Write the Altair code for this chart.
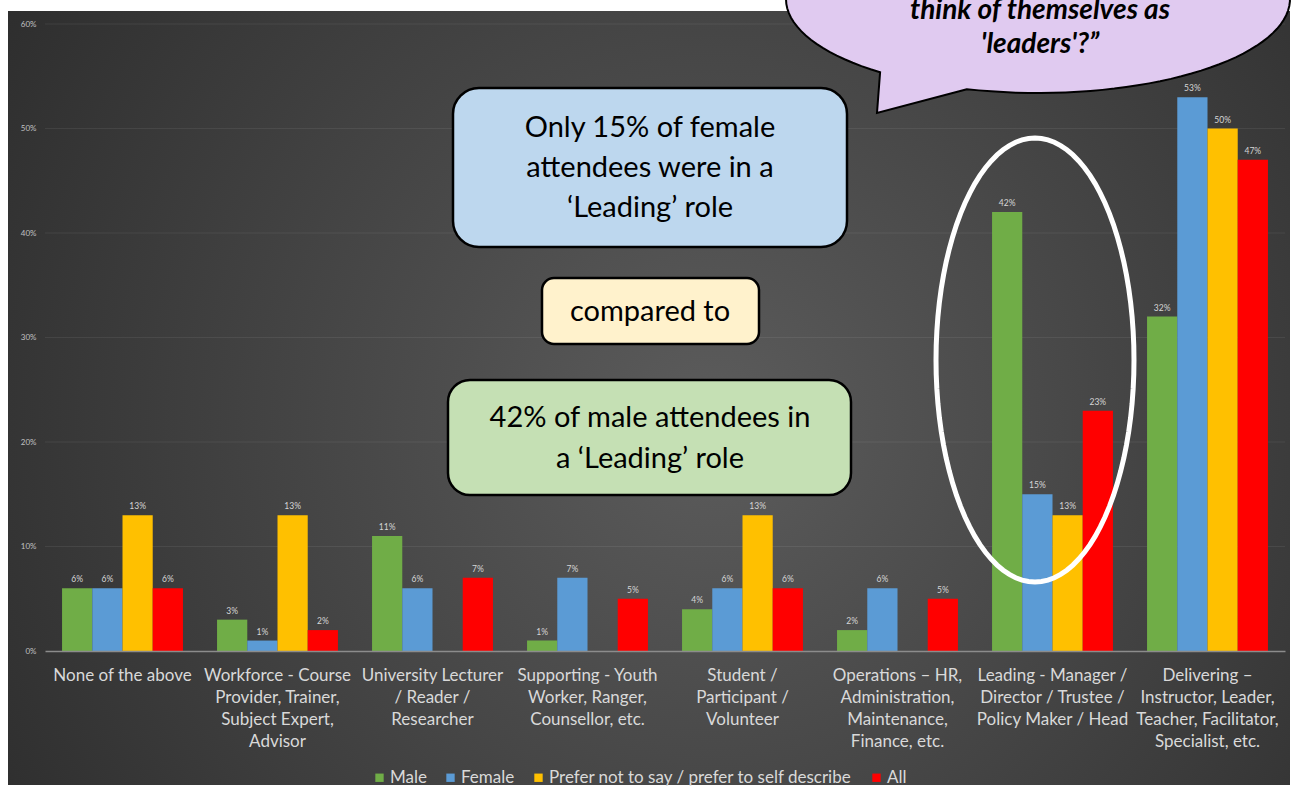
import altair as alt
import pandas as pd
import numpy as np

# ---------------- data ----------------
CATEGORIES = [
    "None of the above",
    "Workforce - Course\nProvider, Trainer,\nSubject Expert,\nAdvisor",
    "University Lecturer\n/ Reader /\nResearcher",
    "Supporting - Youth\nWorker, Ranger,\nCounsellor, etc.",
    "Student /\nParticipant /\nVolunteer",
    "Operations – HR,\nAdministration,\nMaintenance,\nFinance, etc.",
    "Leading - Manager /\nDirector / Trustee /\nPolicy Maker / Head",
    "Delivering –\nInstructor, Leader,\nTeacher, Facilitator,\nSpecialist, etc.",
]
SERIES = ["Male", "Female", "Prefer not to say / prefer to self describe", "All"]
COLORS = ["#70AD47", "#5B9BD5", "#FFC000", "#FF0000"]
MALE = [6, 3, 11, 1, 4, 2, 42, 32]
FEMALE = [6, 1, 6, 7, 6, 6, 15, 53]
PREFER = [13, 13, 0, 0, 13, 0, 13, 50]
ALL = [6, 2, 7, 5, 6, 5, 23, 47]
Y_TICKS = [0, 10, 20, 30, 40, 50, 60]
GRID = [10, 20, 30, 40, 50, 60]

rows = []
for s, vals in zip(SERIES, [MALE, FEMALE, PREFER, ALL]):
    for c, v in zip(CATEGORIES, vals):
        rows.append({"category": c, "series": s, "value": v})
df = pd.DataFrame(rows)
one = pd.DataFrame({"k": [0]})

# ---------------- layout ----------------
W, H = 1240, 627
PADL, PADT = 45, 24
def px(x):
    return x - PADL
def py(y):
    return y - PADT

FONT = "Lato"

x_enc = alt.X("category:N", sort=CATEGORIES,
              scale=alt.Scale(paddingInner=0.22, paddingOuter=0.11),
              axis=alt.Axis(title=None, labelAngle=0, labelAlign="center", labelBaseline="top",
                            labelExpr="split(datum.label, '\\n')", labelLimit=400,
                            labelFontSize=17, labelFont=FONT, labelColor="#d9d9d9",
                            labelLineHeight=22, labelPadding=16, ticks=False,
                            domain=True, domainColor="#8c8c8c", domainWidth=1.5,
                            grid=False, zindex=1))
xo_enc = alt.XOffset("series:N", sort=SERIES, scale=alt.Scale(domain=SERIES))
y_scale = alt.Scale(domain=[0, 60], nice=False)
y_axis = alt.Axis(title=None, values=Y_TICKS, labelExpr="datum.value + '%'",
                  labelFontSize=8, labelFont=FONT, labelColor="#c0c0c0",
                  labelPadding=9, ticks=False, domain=False, grid=False, zindex=1)

# background with radial gradient
bg = alt.Chart(one).mark_rect(
    fill=alt.RadialGradient(gradient="radial", x1=0.55, y1=0.52, r1=0.0,
                            x2=0.55, y2=0.52, r2=0.75,
                            stops=[alt.GradientStop(offset=0, color="#5c5c5c"),
                                   alt.GradientStop(offset=1, color="#262626")])
).encode(x=alt.value(px(8)), x2=alt.value(px(1290)), y=alt.value(py(11)), y2=alt.value(py(785)))

grid = alt.Chart(pd.DataFrame({"value": GRID})).mark_rule(color="#ffffff", opacity=0.07, strokeWidth=1).encode(
    y=alt.Y("value:Q", scale=y_scale, axis=y_axis)
)

bars = alt.Chart(df).mark_bar(opacity=1).encode(
    x=x_enc,
    xOffset=xo_enc,
    y=alt.Y("value:Q", scale=y_scale, axis=y_axis),
    color=alt.Color("series:N", sort=SERIES, scale=alt.Scale(domain=SERIES, range=COLORS),
                    legend=alt.Legend(title=None, orient="none", legendX=326, legendY=745,
                                      direction="horizontal", symbolType="square",
                                      symbolSize=70, symbolStrokeWidth=0,
                                      labelFontSize=17, labelFont=FONT, labelColor="#d9d9d9",
                                      labelOffset=2, columnPadding=15, labelLimit=400)),
)

labels = alt.Chart(df).transform_filter("datum.value > 0").transform_calculate(
    label="datum.value + '%'"
).mark_text(
    font=FONT, fontSize=8.5, color="#d6d6d6", baseline="middle", dy=-9
).encode(
    x=alt.X("category:N", sort=CATEGORIES),
    xOffset=xo_enc,
    y=alt.Y("value:Q", scale=y_scale),
    text=alt.Text("label:N"),
)

def box(x0, y0, x1, y1, fill, r):
    return alt.Chart(one).mark_rect(fill=fill, stroke="black", strokeWidth=2.5, cornerRadius=r).encode(
        x=alt.value(px(x0)), x2=alt.value(px(x1)), y=alt.value(py(y0)), y2=alt.value(py(y1)))

def txt(lines, cx, cy_first, size, lh, **kw):
    return alt.Chart(one).mark_text(text=lines, font=FONT, fontSize=size, lineHeight=lh,
                                    align="center", baseline="middle", color="black", **kw).encode(
        x=alt.value(px(cx)), y=alt.value(py(cy_first)))

box1 = box(453, 88, 847, 247, "#BDD7EE", 26)
t1 = txt(["Only 15% of female", "attendees were in a", "\u2018Leading\u2019 role"], 650, 128, 29, 40)
box2 = box(542, 278, 759, 344, "#FFF2CC", 12)
t2 = txt(["compared to"], 650, 312, 29, 40)
box3 = box(448, 380, 851, 495, "#C5E0B4", 22)
t3 = txt(["42% of male attendees in", "a \u2018Leading\u2019 role"], 650, 418, 29, 41)

# white ellipse around the Leading group
E_R = 222.0
tt = np.linspace(0, 2 * np.pi, 97)
ell_pts = [(99.0 / E_R * np.cos(t), np.sin(t)) for t in tt]
ell_path = "M" + " L".join(f"{a:.4f},{b:.4f}" for a, b in ell_pts) + " Z"
ellipse = alt.Chart(one).mark_point(shape=ell_path, size=(2 * E_R) ** 2, filled=False,
                                    stroke="white", strokeWidth=5, opacity=1).encode(
    x=alt.value(px(1035)), y=alt.value(py(360)))

# speech bubble
B_R = 252.0
bcx, bcy = 1038.0, -1.0
rx, ry = 252.0 / B_R, 94.0 / B_R
t_left, t_right = np.deg2rad(128.8), np.deg2rad(106.4)
arc_t = np.linspace(t_left, t_right + 2 * np.pi, 120)
tip = ((877 - bcx) / B_R, (113 - bcy) / B_R)
start = (rx * np.cos(t_right), ry * np.sin(t_right))
pts = [start, tip] + [(rx * np.cos(t), ry * np.sin(t)) for t in arc_t]
bub_path = "M" + " L".join(f"{a:.4f},{b:.4f}" for a, b in pts) + " Z"
bubble = alt.Chart(one).mark_point(shape=bub_path, size=(2 * B_R) ** 2, filled=True,
                                   fill="#E0CAF0", stroke="black", strokeWidth=2, opacity=1).encode(
    x=alt.value(px(bcx)), y=alt.value(py(bcy)))
bt = txt(["think of themselves as", "'leaders'?\u201d"], 1040, 11, 28, 34,
         fontWeight="bold", fontStyle="italic")

chart = alt.layer(bg, grid, bars, labels, box1, t1, box2, t2, box3, t3, ellipse, bubble, bt).properties(
    width=W, height=H,
    autosize=alt.AutoSizeParams(type="none"),
    padding={"left": PADL, "top": PADT, "right": 1295 - PADL - W, "bottom": 791 - PADT - H},
    background="white",
).configure_view(stroke=None)

chart.save("out.html", embed_options={"renderer": "svg", "actions": False})
